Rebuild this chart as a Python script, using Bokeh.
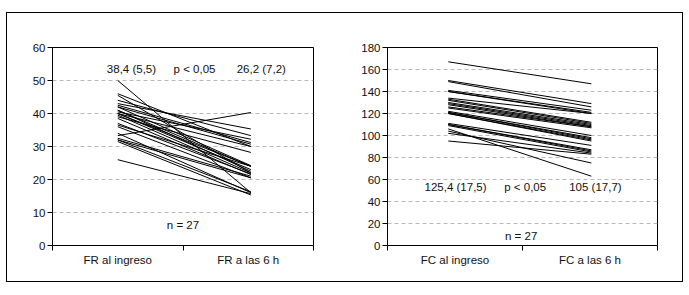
from bokeh.plotting import figure
from bokeh.layouts import row
from bokeh.models import FixedTicker, Range1d, ColumnDataSource
from bokeh.core.properties import value
from bokeh.embed import file_html
from bokeh.resources import INLINE

# ---------------- data ----------------
categories_fr = ["FR al ingreso", "FR a las 6 h"]
categories_fc = ["FC al ingreso", "FC a las 6 h"]

# frecuencia respiratoria (27 pacientes)
fr_ingreso = [50, 46, 45.5, 44, 43, 42.5, 42, 42, 41, 41, 40.5, 40, 40, 40,
              39.5, 39, 38.5, 37, 36.5, 36, 34, 33.3, 32.5, 32, 32, 31.5, 26]
fr_6h = [16, 30, 22, 33.3, 35.3, 31.2, 24.2, 30.7, 24, 22.5, 32.2, 24, 23, 30,
         22, 28.2, 21.5, 21.7, 24, 20.5, 16, 40.3, 21, 16.3, 20.5, 15.3, 15.7]

# frecuencia cardiaca (27 pacientes)
fc_ingreso = [167, 150, 149, 141, 140, 140, 134, 133, 132, 130, 129, 128, 126, 125,
              122, 121, 121, 120, 120, 111, 110, 110, 109, 106, 104, 102, 95]
fc_6h = [147, 129, 126, 123, 121, 120, 120, 112, 111, 110, 109, 108, 108, 107,
         100, 98, 97, 96, 95, 91, 87, 86, 85, 63, 75, 84, 83]

fr_ticks = [0, 10, 20, 30, 40, 50, 60]
fc_ticks = [0, 20, 40, 60, 80, 100, 120, 140, 160, 180]

fr_labels = ["38,4 (5,5)", "p < 0,05", "26,2 (7,2)"]
fc_labels = ["125,4 (17,5)", "p < 0,05", "105 (17,7)"]
n_label = "n = 27"

FONT = "Liberation Sans"


def make_panel(cats, before, after, ticks, labels, x_pos, lab_x, lab_y, n_xy,
               width, height, bl, br, bt, bb):
    ymax = ticks[-1]
    p = figure(width=width, height=height, output_backend="svg",
               toolbar_location=None, x_range=Range1d(0, 2),
               y_range=Range1d(0, ymax),
               min_border_left=bl, min_border_right=br,
               min_border_top=bt, min_border_bottom=bb)
    p.background_fill_color = "white"
    p.border_fill_color = "white"
    p.outline_line_color = "black"
    p.outline_line_width = 1
    p.outline_line_alpha = 1

    src = ColumnDataSource(dict(x0=[x_pos[0]] * len(before), y0=before,
                                x1=[x_pos[1]] * len(after), y1=after))
    p.segment("x0", "y0", "x1", "y1", source=src, line_color="black",
              line_width=1)

    tsrc = ColumnDataSource(dict(x=lab_x + [n_xy[0]], y=[lab_y] * 3 + [n_xy[1]],
                                 t=labels + [n_label]))
    p.text("x", "y", text="t", source=tsrc, text_font=value(FONT),
           text_font_size="11.5px", text_align="center",
           text_baseline="middle", text_color="#111111")

    # y axis
    ya = p.yaxis[0]
    ya.ticker = FixedTicker(ticks=ticks, minor_ticks=[])
    ya.major_tick_out = 5
    ya.major_tick_in = 0
    ya.major_label_standoff = 2
    ya.axis_line_color = "black"
    ya.major_tick_line_color = "black"
    ya.major_label_text_font = FONT
    ya.major_label_text_font_size = "11.5px"
    ya.major_label_text_color = "#111111"

    # x axis
    xa = p.xaxis[0]
    xa.ticker = FixedTicker(ticks=[0.5, 1.5], minor_ticks=[0, 1, 2])
    xa.major_label_overrides = {0.5: cats[0], 1.5: cats[1]}
    xa.major_tick_out = 0
    xa.major_tick_in = 0
    xa.minor_tick_out = 5
    xa.minor_tick_in = 0
    xa.minor_tick_line_color = "black"
    xa.major_label_standoff = 3
    xa.axis_line_color = "black"
    xa.major_label_text_font = FONT
    xa.major_label_text_font_size = "11.5px"
    xa.major_label_text_color = "#111111"

    p.xgrid.visible = False
    p.ygrid.ticker = FixedTicker(ticks=ticks[1:-1])
    p.ygrid.grid_line_color = "#b8b8b8"
    p.ygrid.grid_line_dash = "4 3"
    p.ygrid.grid_line_width = 1
    return p


p1 = make_panel(categories_fr, fr_ingreso, fr_6h, fr_ticks, fr_labels,
                [0.5, 1.52], [0.605, 1.088, 1.60], 53.5, (1.0, 6.2),
                width=343, height=268, bl=45, br=37, bt=34, bb=32)
p2 = make_panel(categories_fc, fc_ingreso, fc_6h, fc_ticks, fc_labels,
                [0.45, 1.51], [0.504, 1.02, 1.54], 53.3, (0.99, 9.0),
                width=332, height=268, bl=37, br=25, bt=33, bb=36)

layout = row(p1, p2, styles={"border": "1px solid black",
                             "background": "white",
                             "margin-left": "6px", "margin-top": "12px"})

open("out.html", "w").write(file_html(layout, INLINE))
